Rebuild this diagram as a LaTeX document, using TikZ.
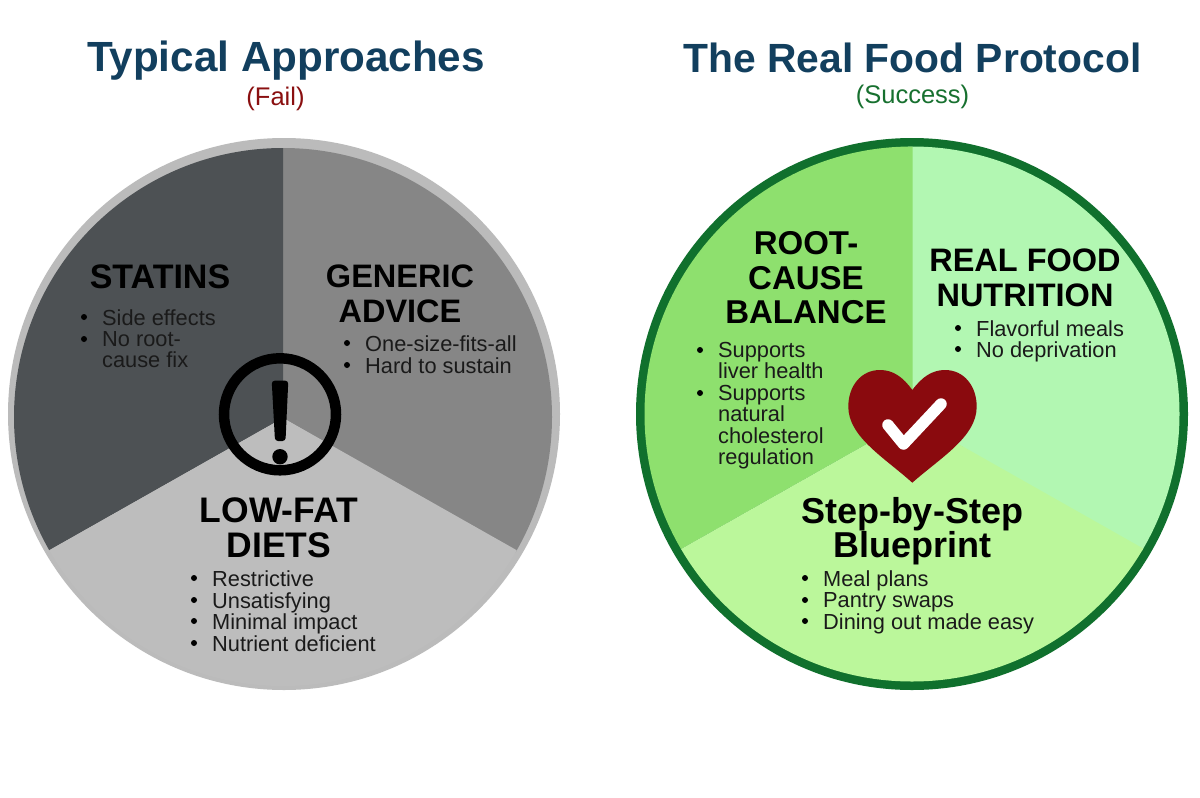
\documentclass[tikz,border=0pt]{standalone}
\usepackage{fontspec}
\setmainfont{Liberation Sans}
\definecolor{navy}{HTML}{123F5E}
\definecolor{failred}{HTML}{8A0F10}
\definecolor{succgreen}{HTML}{17702F}
\definecolor{ringgray}{HTML}{BBBBBB}
\definecolor{gdark}{HTML}{4D5154}
\definecolor{gmid}{HTML}{868686}
\definecolor{glight}{HTML}{BDBDBD}
\definecolor{ringgreen}{HTML}{10702D}
\definecolor{gra}{HTML}{8EE06E}
\definecolor{grb}{HTML}{B2F7B2}
\definecolor{grc}{HTML}{BBF79B}
\definecolor{heartred}{HTML}{8A0A0E}
\definecolor{bodytext}{HTML}{1A1A1A}
\newcommand{\tsize}[1]{\fontsize{#1}{34.5}\selectfont\bfseries}
\tikzset{x=1pt,y=-1pt,
 head/.style={text=navy,inner sep=0pt,anchor=base},
 sub/.style={font=\fontsize{25.5}{25.5}\selectfont,inner sep=0pt,anchor=base},
 ttl/.style={text=black,align=center,inner sep=0pt,anchor=center},
 lst/.style={font=\fontsize{21.8}{21.5}\selectfont,text=bodytext,align=left,inner sep=0pt,anchor=north west,yshift=8pt}}
\newcommand{\liststrut}{\rule{0pt}{12pt}}
\newcommand{\bul}[2]{\fill[black] (#1,#2) circle (3);}
\begin{document}
\begin{tikzpicture}
\useasboundingbox (0,0) rectangle (1200,798);
\fill[white] (0,0) rectangle (1200,798);
\node[head,font=\fontsize{42.2}{42}\selectfont\bfseries] (h1) at (286,71) {Typical Approaches};
\node[sub,text=failred] (s1) at (275.5,105.5) {(Fail)};
\node[head,font=\fontsize{40.8}{42}\selectfont\bfseries] (h2) at (912.5,72) {The Real Food Protocol};
\node[sub,text=succgreen] (s2) at (912.5,103.5) {(Success)};
% left pie
\fill[ringgray] (284,414) circle (276);
\begin{scope}
\clip (283,417) circle (269);
\fill[gmid] (283,418) -- ++(-91:300) arc[start angle=-91,delta angle=121,radius=300] -- cycle;
\fill[gdark] (283,418) -- ++(150.5:300) arc[start angle=150.5,delta angle=119.5,radius=300] -- cycle;
\fill[glight] (283,418) -- ++(29.5:300) arc[start angle=29.5,delta angle=121,radius=300] -- cycle;
\end{scope}
% warning
\draw[black,line width=10.5pt] (280,414.3) circle (56);
\fill[black,rounded corners=3pt] (271.7,380.7) -- (288.3,380.7) -- (285.5,441) -- (275,441) -- cycle;
\fill[black] (280,456.7) circle (7.7);
% right pie
\fill[ringgreen] (912,414) circle (276);
\begin{scope}
\clip (912,414) circle (267.5);
\fill[grb] (912.5,418) -- ++(-91:300) arc[start angle=-91,delta angle=121,radius=300] -- cycle;
\fill[gra] (912.5,418) -- ++(150.5:300) arc[start angle=150.5,delta angle=119.5,radius=300] -- cycle;
\fill[grc] (912.5,418) -- ++(29.5:300) arc[start angle=29.5,delta angle=121,radius=300] -- cycle;
\end{scope}
% heart
\fill[heartred] (912.3,390) .. controls (903,377) and (893,370) .. (880,370)
  .. controls (861,370) and (848.3,386) .. (848.3,406.7)
  .. controls (848.3,437) and (885,458) .. (912.3,482.7)
  .. controls (940,458) and (976.7,437) .. (976.7,406.7)
  .. controls (976.7,386) and (964,370) .. (945,370)
  .. controls (932,370) and (922,377) .. (912.3,390) -- cycle;
\draw[white,line width=11.5pt,line cap=round,line join=round] (888,425) -- (903.5,444) -- (941,404);
% titles
\node[ttl,font=\tsize{34}] (t1) at (160,277) {STATINS};
\node[ttl,font=\tsize{32.5}] (t2) at (400,294) {GENERIC\\ADVICE};
\node[ttl,font=\tsize{35.5}] (t3) at (279,528) {LOW-FAT\\DIETS};
\node[ttl,font=\tsize{33}] (t4) at (806,278) {ROOT-\\CAUSE\\BALANCE};
\node[ttl,font=\tsize{32.5}] (t5) at (1025,278) {REAL FOOD\\NUTRITION};
\node[ttl,font=\tsize{36}] (t6) at (912,531) {Step-by-Step\\Blueprint};
% lists
\bul{84}{317}\node[lst] (a1) at (102,317) {\liststrut Side effects};
\bul{84}{339}\node[lst] (a2) at (102,339) {\liststrut No root-\\cause fix};
\bul{347}{343}\node[lst] (b1) at (365,343) {\liststrut One-size-fits-all};
\bul{347}{365}\node[lst] (b2) at (365,365) {\liststrut Hard to sustain};
\bul{194}{578}\node[lst] (c1) at (212,578) {\liststrut Restrictive};
\bul{194}{600}\node[lst] (c2) at (212,600) {\liststrut Unsatisfying};
\bul{194}{621}\node[lst] (c3) at (212,621) {\liststrut Minimal impact};
\bul{194}{643}\node[lst] (c4) at (212,643) {\liststrut Nutrient deficient};
\bul{700}{350}\node[lst] (d1) at (718,350) {\liststrut Supports\\liver health};
\bul{700}{393}\node[lst] (d2) at (718,393) {\liststrut Supports\\natural\\cholesterol\\regulation};
\bul{958}{328}\node[lst] (e1) at (976,328) {\liststrut Flavorful meals};
\bul{958}{349}\node[lst] (e2) at (976,349) {\liststrut No deprivation};
\bul{805}{578}\node[lst] (f1) at (823,578) {\liststrut Meal plans};
\bul{805}{600}\node[lst] (f2) at (823,600) {\liststrut Pantry swaps};
\bul{805}{621}\node[lst] (f3) at (823,621) {\liststrut Dining out made easy};
\end{tikzpicture}
\end{document}
